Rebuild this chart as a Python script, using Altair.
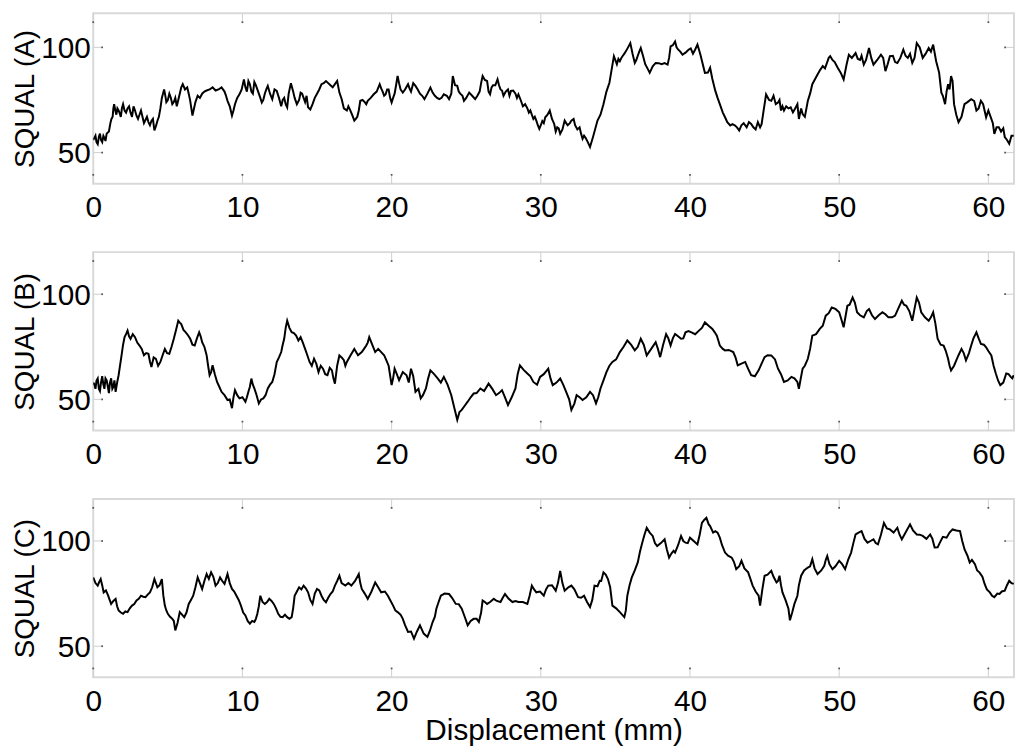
import altair as alt
import pandas as pd

# ---------------- data ----------------
# Panel A: main readings
xa = [0.0, 0.15, 0.3, 0.45, 0.6, 0.75, 0.9, 1.05, 1.15, 1.3, 1.4, 1.55, 1.7, 1.85, 2.0, 2.2, 2.4, 2.6, 2.8, 3.0,
      3.2, 3.4, 3.6, 3.8, 4.0, 4.1, 4.3, 4.5, 4.75, 4.9, 5.1, 5.3, 5.5, 5.6, 5.8, 6.0, 6.3, 6.5, 6.65, 6.85,
      7.0, 7.3, 7.6, 8.0, 8.4, 8.8, 9.0, 9.3, 9.5, 9.8, 10.1, 10.3, 10.5, 10.7, 10.9, 11.1, 11.3, 11.5, 11.7, 12.0,
      12.3, 12.6, 12.8, 13.0, 13.25, 13.5, 13.8, 14.0, 14.2, 14.4, 14.7, 15.0, 15.3, 15.6, 15.9, 16.2, 16.5, 16.8, 17.0, 17.2,
      17.5, 17.7, 17.9, 18.2, 18.4, 18.8, 19.2, 19.4, 19.6, 19.8, 20.0, 20.2, 20.4, 20.6, 20.75, 21.1, 21.3, 21.6, 21.9, 22.2,
      22.6, 22.9, 23.2, 23.5, 23.85, 24.1, 24.4, 24.6, 24.85, 25.2, 25.6, 25.9, 26.1, 26.4, 26.6, 26.8, 27.1, 27.3, 27.5, 27.8,
      28.0, 28.3, 28.5, 28.8, 29.1, 29.3, 29.5, 29.7, 29.9, 30.1, 30.3, 30.6, 30.9, 31.1, 31.3, 31.6, 31.8, 32.05, 32.3, 32.6,
      32.8, 33.0, 33.3, 33.5, 33.8, 34.0, 34.2, 34.4, 34.6, 34.9, 35.1, 35.3, 35.5, 35.7, 36.0, 36.3, 36.5, 36.7, 37.0, 37.3,
      37.7, 38.1, 38.5, 38.7, 39.0, 39.2, 39.5, 39.9, 40.2, 40.5, 40.7, 41.0, 41.35, 41.7, 42.0, 42.35, 42.7, 43.0, 43.3, 43.6,
      44.1, 44.4, 44.7, 44.9, 45.1, 45.45, 45.9, 46.1, 46.3, 46.6, 46.9, 47.2, 47.3, 47.55, 47.9, 48.2, 48.55, 48.9, 49.2, 49.4,
      49.9, 50.3, 50.65, 51.1, 51.4, 51.65, 52.0, 52.3, 52.8, 53.1, 53.4, 53.9, 54.3, 54.6, 54.9, 55.2, 55.6, 56.0, 56.3, 56.5,
      56.85, 57.1, 57.3, 57.5, 57.7, 58.0, 58.4, 58.85, 59.2, 59.5, 59.85, 60.2, 60.4, 60.7, 61.1, 61.4, 61.7]
ya = [56, 58, 54, 59, 55, 57, 59, 60, 64, 67, 73, 68, 70, 67, 73, 69, 72, 67, 70, 66,
      70, 64, 67, 63, 66, 60.5, 65, 71, 80, 74, 78, 73, 76, 72, 78, 82.5, 81, 74.6, 67.6, 74,
      77, 78, 79.5, 81, 80, 79, 74.6, 67.6, 73, 77.7, 84.8, 79, 82.5, 78, 82, 78, 73.8, 78, 81.7, 75.4,
      79.3, 72, 76, 71.5, 83, 76, 75, 78, 74, 71.5, 73, 78, 82.5, 84, 82, 82.5, 78.5, 71, 70, 70.5,
      65.2, 67, 74.6, 74, 74.6, 77.7, 82.5, 79, 77.7, 80, 73.8, 78, 86.4, 80, 78.5, 82.5, 79, 81.7, 78, 75.4,
      80.9, 77, 75.4, 77.7, 75.4, 86.4, 81.7, 78, 74.6, 78.5, 75.4, 79, 86.4, 84, 77.7, 82, 84.8, 80, 77, 80,
      79.3, 78, 77.7, 72, 71, 70, 66, 65.2, 61.3, 65, 66.8, 70, 63.6, 62, 58.9, 65.2, 63, 65.2, 63, 62,
      56.6, 57, 52.7, 57.4, 65.2, 68, 73, 79, 83.2, 95.8, 92, 93.4, 96, 98.1, 102, 92.6, 96, 99.7, 92, 87.9,
      92.6, 92, 91.8, 100.5, 102.8, 99, 96.5, 98.9, 97, 101.3, 96.5, 87.9, 90.3, 79.3, 73, 66.8, 62.9, 63, 60.5, 64,
      63.6, 61, 62, 68.3, 77.7, 74.6, 73.8, 70, 70, 71, 69.1, 73, 66, 68.3, 74.6, 82.5, 87.1, 91.1, 93, 95.8,
      90.3, 84.8, 96.5, 97.3, 94, 91.8, 99.7, 91.8, 96.5, 88.7, 95.8, 92.6, 98.9, 95, 92.6, 102, 95, 99.7, 101.3, 93.4,
      78.5, 73, 82.5, 86.4, 73, 64.4, 73, 75.4, 70, 74.6, 66.8, 66, 58.9, 62, 57.4, 54.2, 58]
# Panel A: additional readings of the fine jitter
xa_fine = [0.08, 0.22, 0.38, 0.52, 0.68, 0.82, 1.22, 1.35, 1.48, 1.62, 1.78, 1.92, 2.1, 2.3, 2.5, 2.7, 2.9, 3.1, 3.3, 3.5,
           3.7, 3.9, 4.2, 4.4, 4.6, 4.82, 5.0, 5.2, 5.4, 5.7, 5.9, 6.15, 6.4, 7.15, 7.45, 7.8, 8.2, 8.6, 8.9, 9.15,
           9.4, 9.65, 9.95, 10.2, 10.4, 10.6, 10.8, 11.0, 11.2, 11.4, 11.6, 11.85, 12.15, 12.45, 12.7, 12.9, 13.1, 13.4, 13.65, 13.9,
           14.1, 14.3, 14.55, 14.85, 15.15, 15.45, 15.75, 16.05, 16.35, 16.65, 17.1, 17.35, 17.6, 17.8, 18.05, 18.3, 18.6, 19.0, 19.3, 19.5,
           19.7, 19.9, 20.1, 20.3, 20.5, 20.9, 21.2, 21.45, 21.75, 22.05, 22.4, 22.75, 23.05, 23.35, 23.7, 24.0, 24.25, 24.5, 24.75, 25.0,
           25.4, 25.75, 26.0, 26.25, 26.5, 26.7, 26.95, 27.2, 27.4, 27.65, 27.9, 28.15, 28.4, 28.65, 28.95, 29.2, 29.4, 29.6, 29.8, 30.0,
           30.2, 30.45, 30.75, 31.0, 31.2, 31.45, 31.7, 31.95, 32.2, 32.45, 32.7, 32.9, 33.15, 33.4, 35.2, 35.4, 35.6, 35.85, 36.15, 36.4,
           36.6, 36.85, 37.15, 37.5, 37.9, 38.3, 38.6, 38.85, 39.1, 39.35, 39.7, 40.05, 40.35, 40.6, 41.2, 41.5, 41.85, 42.2, 42.5, 42.85,
           43.15, 43.45, 43.8, 43.95, 44.25, 44.55, 44.8, 45.3, 45.6, 45.75, 46.0, 46.2, 46.45, 46.75, 47.05, 47.45, 47.7, 48.05, 48.7, 49.05,
           49.3, 49.55, 49.7, 50.1, 50.5, 50.85, 51.25, 51.5, 51.8, 52.15, 52.55, 52.95, 53.25, 53.6, 53.75, 54.1, 54.45, 54.75, 55.05, 55.4,
           55.8, 56.15, 56.7, 56.95, 57.2, 57.4, 57.6, 57.85, 58.2, 58.6, 59.05, 59.35, 59.65, 60.0, 60.3, 60.55, 60.85, 61.0, 61.25, 61.55]
ya_fine = [57, 55, 57.5, 56, 58, 55.5, 66, 71, 70, 71, 68.5, 71, 70, 71, 69, 72, 67.5, 68, 67, 65.5,
           64.5, 65, 62.5, 67, 76, 77.5, 75, 76, 74, 75, 81, 80, 78, 76, 79, 80, 79.5, 81, 77, 72,
           70, 76, 80, 81, 84, 79, 83.5, 80, 76, 75, 80, 78, 80, 76, 75, 73, 78, 79, 73, 78.5,
           76, 77, 70.5, 76, 80, 83, 83, 81, 84, 75.5, 72, 68, 66, 70, 75, 73, 76, 79, 80.5, 77,
           80, 76, 76, 82, 83, 80, 80.5, 83, 80, 77, 78, 78.5, 76, 76, 77, 78, 82, 79, 77, 76,
           77, 77, 83, 84.5, 79, 81, 82, 82, 79.5, 79, 77, 79.5, 76, 75, 73, 69, 68, 67, 63, 63,
           64, 68, 66, 60, 61.5, 61, 64, 64, 66, 61, 59, 58, 55, 55, 94.5, 95, 97, 100, 97, 94,
           98, 96, 90, 91, 92.5, 92.5, 95, 101, 100, 98, 97.5, 99.5, 99, 99, 88, 85, 76, 69, 64.5, 63.5,
           62, 63, 62, 64.5, 62, 64.5, 63.5, 75, 77, 73, 75, 72, 72, 71.5, 71, 71, 67, 78, 89, 90,
           95, 94, 93, 88, 92, 95, 94.5, 96, 94, 95, 94, 95, 92, 96, 93, 95, 96, 97, 95, 100,
           97, 98, 88, 77, 79, 80, 84, 68, 67, 74, 74.5, 71, 73, 70, 64, 62, 60, 61.5, 56, 58]

# Panel B: main readings
xb = [0.0, 0.15, 0.3, 0.45, 0.6, 0.75, 0.9, 1.05, 1.2, 1.35, 1.5, 1.7, 1.9, 2.1, 2.3, 2.5, 2.8, 3.1, 3.4, 3.7,
      3.9, 4.2, 4.5, 4.8, 5.1, 5.4, 5.7, 5.9, 6.2, 6.5, 6.8, 7.1, 7.3, 7.6, 7.8, 8.0, 8.3, 8.6, 9.0, 9.3,
      9.5, 9.8, 10.2, 10.4, 10.6, 10.8, 11.1, 11.4, 11.7, 12.0, 12.3, 12.6, 12.8, 13.0, 13.3, 13.6, 13.9, 14.2, 14.5, 14.8,
      15.1, 15.4, 15.7, 16.0, 16.2, 16.5, 16.8, 17.0, 17.5, 18.0, 18.3, 18.5, 18.9, 19.3, 19.65, 20.0, 20.2, 20.5, 21.0, 21.3,
      21.6, 21.95, 22.3, 22.6, 23.1, 23.5, 24.0, 24.4, 24.7, 25.1, 25.5, 25.95, 26.5, 27.0, 27.4, 27.8, 28.3, 28.6, 29.1, 29.5,
      29.95, 30.5, 30.8, 31.3, 31.7, 32.05, 32.4, 32.8, 33.3, 33.7, 34.0, 34.4, 34.8, 35.3, 35.8, 36.3, 36.7, 37.1, 37.7, 38.0,
      38.4, 38.7, 39.0, 39.4, 39.7, 40.1, 40.6, 41.0, 41.5, 41.8, 42.0, 42.35, 42.9, 43.2, 43.7, 44.1, 44.6, 45.0, 45.45, 45.9,
      46.3, 46.8, 47.2, 47.3, 47.55, 47.9, 48.2, 48.7, 49.1, 49.5, 50.0, 50.3, 50.55, 50.9, 51.2, 51.65, 52.0, 52.4, 52.9, 53.3,
      53.75, 54.2, 54.5, 54.9, 55.2, 55.5, 56.0, 56.3, 56.6, 57.0, 57.3, 57.5, 57.85, 58.2, 58.5, 58.85, 59.2, 59.5, 59.85, 60.2,
      60.5, 60.8, 61.2, 61.5, 61.7]
yb = [58, 55, 60, 54, 61, 55, 59, 53, 60, 56, 53.6, 61.5, 71, 79.6, 82.7, 78.8, 79.6, 75.6, 71, 71.7,
      65.4, 69.3, 67.8, 74, 71.7, 78.8, 87.4, 85.8, 81.9, 78.8, 75.6, 81.9, 77.2, 71, 61.5, 66.2, 58.3, 53.6, 49.7, 45.8,
      54.4, 50.5, 48.9, 53.6, 59.9, 55.2, 48.1, 50.5, 55.2, 58.3, 67.8, 72.5, 78.8, 87.4, 81.9, 80.3, 79.6, 74, 67.8, 69.3,
      63, 64.6, 61.5, 63.8, 57.5, 70.9, 68.6, 67.8, 74, 72.5, 75.6, 79.6, 72.5, 72.5, 68.6, 56.8, 64.6, 59.1, 61.5, 64.6,
      53.6, 50.5, 55.2, 63.8, 59.9, 60.7, 52, 40.3, 45, 48.9, 52.8, 55.2, 57.5, 52, 54.4, 47.3, 55.2, 66.2, 62.3, 58.3,
      60.7, 64.6, 56.8, 59.9, 53.6, 45, 52, 49.7, 53.6, 48.1, 55.2, 63, 67.8, 72.5, 78, 73.3, 78.8, 70.9, 77.2, 70.1,
      81, 75.6, 81.1, 78.8, 81.9, 81.9, 82.7, 86.6, 83.5, 80.3, 75.6, 73.3, 72.5, 66.2, 67.8, 61.5, 63.8, 70.1, 70.9, 64.6,
      58.3, 60.7, 58.3, 55, 64.6, 69.3, 80.3, 83.5, 89.8, 93.7, 91.4, 84.3, 94.5, 98.4, 91.4, 89, 92.9, 88.2, 91.4, 89,
      89.8, 96.9, 94.5, 87.4, 98.4, 91.4, 87.4, 91.4, 78.8, 75.6, 69.3, 63.8, 68.6, 74, 68.6, 75.6, 81.9, 76.4, 74.8, 70.9,
      62.3, 56.8, 62.3, 60.7, 61.5]
# Panel B: additional readings of the fine jitter
xb_fine = [0.08, 0.22, 0.38, 0.52, 0.68, 0.82, 0.98, 1.12, 1.28, 1.42, 1.6, 2.0, 2.2, 2.4, 2.65, 2.95, 3.25, 3.55, 3.8, 4.05,
           4.35, 4.65, 4.95, 5.25, 5.55, 5.8, 6.05, 6.35, 6.65, 6.95, 7.2, 7.45, 7.7, 7.9, 8.15, 8.45, 8.8, 9.15, 9.4, 9.65,
           10.0, 10.3, 10.5, 10.7, 10.95, 11.25, 11.55, 11.85, 12.15, 12.45, 12.7, 12.9, 13.15, 13.45, 13.75, 14.05, 14.35, 14.65, 14.95, 15.25,
           15.55, 15.85, 16.1, 16.35, 16.65, 16.9, 17.25, 17.75, 18.15, 18.4, 18.7, 19.1, 19.5, 19.8, 20.1, 20.35, 20.75, 21.15, 21.45, 21.8,
           22.1, 22.45, 22.85, 23.3, 23.75, 24.2, 24.55, 24.9, 25.3, 25.7, 26.2, 26.75, 27.2, 27.6, 28.05, 28.45, 28.85, 29.3, 29.75, 30.2,
           30.65, 31.05, 31.5, 31.9, 32.25, 32.6, 33.05, 33.5, 33.85, 34.2, 34.6, 35.05, 35.55, 36.05, 36.5, 36.9, 37.4, 37.85, 38.2, 38.55,
           38.85, 39.2, 39.55, 39.9, 40.35, 40.8, 41.25, 41.65, 41.9, 42.2, 42.6, 43.05, 43.45, 43.9, 44.35, 44.8, 45.2, 45.7, 46.1, 46.55,
           47.0, 47.4, 47.7, 48.05, 48.45, 48.9, 49.3, 49.75, 50.15, 50.7, 51.05, 51.4, 51.85, 52.2, 52.65, 53.1, 53.55, 53.95, 54.35, 54.7,
           55.05, 55.35, 55.75, 56.15, 56.45, 56.8, 57.15, 57.4, 57.7, 58.0, 58.35, 58.7, 59.0, 59.35, 59.7, 60.0, 60.35, 60.65, 61.0, 61.35,
           61.6]
yb_fine = [57, 59, 55, 58, 57, 60, 56, 58, 55, 59, 58, 76, 81, 80, 81, 77, 74, 72, 68, 70,
           66, 71, 72, 75, 83, 86.5, 83, 80.5, 76, 79, 80, 75, 66, 63, 62, 56, 52, 50, 51, 52,
           51, 51, 56, 57, 52, 50, 52, 57, 62, 70, 76, 84, 84, 81.5, 78, 77, 71, 66, 67, 66,
           62, 65, 60, 66, 70, 66, 71, 71, 74, 77, 76, 74, 71, 66, 60, 62, 63, 58, 61, 55,
           52, 60, 62, 58, 57, 46, 44, 47, 51, 53, 54, 55, 53, 51, 51, 62, 64, 61, 57, 62,
           60, 58, 57, 50, 48, 51, 51, 52, 51, 59, 66, 69, 75, 76, 75, 76, 74, 74, 76, 79,
           79, 80, 79, 82.5, 81, 84, 85, 82, 78, 74, 73.5, 70, 67, 64.5, 61, 67, 71, 69, 62, 59,
           60, 59, 66, 74, 81, 85, 91, 93, 88, 95, 96, 90, 92, 90, 90, 90.5, 89, 93, 95, 92,
           93, 96, 89, 89, 86, 76, 73, 66, 66, 71, 72, 72, 79, 79, 76, 73, 66, 59, 58, 62,
           60]

# Panel C: main readings
xc = [0.0, 0.3, 0.5, 0.7, 1.0, 1.2, 1.5, 1.7, 2.0, 2.3, 2.6, 2.9, 3.2, 3.5, 3.8, 4.1, 4.3, 4.6, 4.8, 5.0,
      5.3, 5.5, 5.8, 6.1, 6.4, 6.7, 7.0, 7.3, 7.6, 7.9, 8.2, 8.5, 8.8, 9.0, 9.3, 9.6, 9.9, 10.2, 10.5, 10.8,
      11.0, 11.2, 11.5, 11.8, 12.1, 12.4, 12.7, 13.0, 13.3, 13.5, 13.8, 14.1, 14.4, 14.7, 15.0, 15.3, 15.6, 15.9, 16.2, 16.5,
      16.9, 17.3, 17.8, 18.0, 18.4, 18.9, 19.3, 19.75, 20.1, 20.4, 20.75, 21.1, 21.5, 21.9, 22.4, 22.75, 23.0, 23.3, 23.85, 24.3,
      24.7, 25.1, 25.5, 25.85, 26.1, 26.4, 26.85, 27.3, 27.6, 28.1, 28.5, 29.1, 29.4, 29.7, 30.2, 30.5, 31.0, 31.3, 31.6, 32.05,
      32.5, 32.9, 33.3, 33.6, 33.95, 34.2, 34.5, 34.8, 35.3, 35.6, 35.8, 36.1, 36.5, 36.8, 37.1, 37.5, 37.8, 38.3, 38.6, 38.9,
      39.0, 39.4, 39.7, 40.0, 40.5, 40.8, 41.1, 41.35, 41.7, 42.0, 42.35, 42.8, 43.1, 43.45, 43.9, 44.2, 44.6, 44.7, 45.0, 45.45,
      45.8, 46.0, 46.2, 46.6, 46.7, 47.0, 47.2, 47.45, 47.9, 48.2, 48.55, 49.0, 49.2, 49.55, 50.0, 50.4, 50.8, 51.1, 51.5, 51.9,
      52.3, 52.6, 53.0, 53.4, 53.9, 54.2, 54.75, 55.2, 55.6, 56.1, 56.4, 56.75, 57.2, 57.6, 58.1, 58.4, 58.75, 59.1, 59.4, 59.75,
      60.1, 60.4, 60.75, 61.1, 61.4, 61.7]
yc = [82.7, 78.8, 81.9, 75.6, 74, 70.1, 72.5, 67, 65.4, 66.2, 69.3, 71.7, 74, 73.3, 75.6, 81.9, 78, 81.9, 69.3, 65.4,
      63, 57.5, 66.2, 63.8, 70.1, 74, 82.7, 77.2, 84.3, 85.1, 78.8, 82.7, 79.6, 84.3, 77.2, 74, 69.3, 64.6, 60.7, 61.5,
      65.4, 74, 70.1, 72.5, 70.1, 65.4, 63.8, 63.8, 63.8, 74, 78, 78.8, 75.6, 70.1, 77.2, 74, 70.9, 74.8, 78.8, 83.5,
      78.8, 78.8, 84.3, 77.2, 72.5, 80.3, 75.6, 74, 69.3, 66.2, 63, 56.8, 53.6, 59.9, 54.4, 61.5, 67.8, 74, 74.8, 70.1,
      67.8, 59.9, 63, 61.5, 71.7, 70.1, 72.5, 71, 74.8, 71, 71, 70.1, 78.8, 75.6, 74, 78.8, 76.4, 85.8, 76.4, 78.8,
      73.3, 74, 68.6, 78.8, 81.1, 85.1, 81.9, 69.3, 66.2, 63.8, 74, 82.7, 89.8, 99.2, 106.3, 102.4, 97.6, 100.8, 92.1, 95.3,
      94.5, 102.4, 99.2, 101.6, 98.4, 108.6, 111, 107.1, 104.7, 101.6, 94.5, 92.1, 86.6, 90.6, 85.1, 78.8, 74, 69.3, 83.5, 85.8,
      80.3, 83.5, 75.6, 67.8, 62.3, 70.1, 74, 83.5, 87.4, 91.4, 84.3, 88.2, 92.9, 86.6, 90.6, 86.6, 94.5, 103.1, 104.7, 99.2,
      100.8, 98.4, 108.6, 105.5, 106.3, 100.8, 107.9, 103.1, 102.4, 103.1, 96.9, 99.2, 101.6, 105.5, 104.7, 96.1, 89.8, 89, 85.1, 79.6,
      75.6, 73.3, 74.8, 76.4, 81.1, 79.6]
# Panel C: additional readings of the fine jitter
xc_fine = [0.15, 0.4, 0.6, 0.85, 1.1, 1.35, 1.6, 1.85, 2.15, 2.45, 2.75, 3.05, 3.35, 3.65, 3.95, 4.2, 4.45, 4.7, 4.9, 5.15,
           5.4, 5.65, 5.95, 6.25, 6.55, 6.85, 7.15, 7.45, 7.75, 8.05, 8.35, 8.65, 8.9, 9.15, 9.45, 9.75, 10.05, 10.35, 10.65, 10.9,
           11.1, 11.35, 11.65, 11.95, 12.25, 12.55, 12.85, 13.15, 13.4, 13.65, 13.95, 14.25, 14.55, 14.85, 15.15, 15.45, 15.75, 16.05, 16.35, 16.65,
           17.1, 17.55, 17.9, 18.2, 18.65, 19.1, 19.55, 19.9, 20.25, 20.6, 20.9, 21.3, 21.7, 22.15, 22.55, 22.9, 23.15, 23.55, 24.05, 24.5,
           24.9, 25.3, 25.7, 26.0, 26.25, 26.6, 27.05, 27.45, 27.85, 28.3, 28.8, 29.25, 29.55, 29.95, 30.35, 30.75, 31.15, 31.45, 31.85, 32.25,
           32.7, 33.1, 33.45, 33.8, 34.05, 34.35, 34.65, 35.05, 35.45, 35.7, 35.95, 36.3, 36.65, 36.95, 37.3, 37.65, 38.05, 38.45, 38.75, 39.2,
           39.55, 39.85, 40.25, 40.65, 40.95, 41.25, 41.55, 41.85, 42.15, 42.55, 42.95, 43.3, 43.65, 44.05, 44.4, 44.85, 45.2, 45.6, 45.9, 46.1,
           46.4, 46.85, 47.1, 47.3, 47.65, 48.05, 48.35, 48.8, 49.1, 49.35, 49.75, 50.2, 50.6, 50.95, 51.3, 51.7, 52.1, 52.45, 52.8, 53.2,
           53.65, 54.05, 54.45, 54.95, 55.4, 55.85, 56.25, 56.6, 56.95, 57.4, 57.85, 58.25, 58.6, 58.9, 59.25, 59.6, 59.9, 60.25, 60.6, 60.9,
           61.25, 61.55]
yc_fine = [80, 80.5, 79, 76.5, 72, 71.5, 69, 66, 66.5, 68, 70, 72.5, 73.5, 74.5, 78, 80, 79, 74, 67, 64,
           62, 61, 65, 66, 72, 78, 80, 81, 82, 83, 80, 81, 82, 80, 76, 72, 66, 62, 62, 63,
           69, 71, 71, 71.5, 68, 64, 65, 63, 68, 76, 77, 77.5, 72, 75, 76.5, 72, 73, 76, 81, 80,
           80, 81, 80, 75, 76, 78, 76, 72, 67, 65, 60, 57, 57, 56, 57, 64, 71, 75, 73, 70,
           64, 62, 63, 66, 71, 71, 71.5, 73, 72.5, 71.5, 71, 74, 77, 76, 77, 79, 80, 80, 78, 77,
           73, 71, 72, 78.5, 81, 84, 78, 68, 65, 67, 79, 86, 95, 103, 104, 99, 99, 96, 94, 98,
           100, 99, 100, 103, 110, 108, 104, 104, 98, 93, 90, 88, 87, 82, 76, 77, 84, 83, 81, 79,
           72, 66, 72, 79, 86, 88, 87, 86, 91, 89, 88, 89, 91, 99, 104, 101, 100, 99, 103, 106,
           104, 103, 104, 105, 103, 101, 101, 97, 102, 104, 105, 100, 93, 91, 86, 83, 77, 74, 75, 76,
           79, 80]

x_ticks = [0, 10, 20, 30, 40, 50, 60]
y_ticks = [50, 100]
panel_labels = ["SQUAL (A)", "SQUAL (B)", "SQUAL (C)"]
x_title = "Displacement (mm)"

# ---------------- layout constants ----------------
W = 929
X_DOMAIN = [0, 61.72]
FONT = "Liberation Sans"
FRAME = "#d9d9d9"


def panel(xs, ys, xs_fine, ys_fine, label, height, ymax, last):
    df = pd.DataFrame({"x": list(xs) + list(xs_fine), "y": list(ys) + list(ys_fine)})
    xs_ = alt.Scale(domain=X_DOMAIN, nice=False, zero=False)
    ys_ = alt.Scale(domain=[35.2, ymax], nice=False, zero=False)
    x_axis = alt.Axis(values=x_ticks, labelPadding=9, labelFlush=False,
                      title=x_title if last else None, titleY=39, titleBaseline="top")
    y_axis = alt.Axis(values=y_ticks, labelPadding=3, title=label, titleX=-54, titleFontSize=28,
                      labelFlush=False, labelOffset=1)
    line = alt.Chart(df).mark_line(color="black", strokeWidth=2, clip=True).encode(
        x=alt.X("x:Q", scale=xs_, axis=x_axis),
        y=alt.Y("y:Q", scale=ys_, axis=y_axis),
        order="x:Q",
    )
    tx = pd.DataFrame({"x": x_ticks})
    ty = pd.DataFrame({"y": y_ticks})
    xa_ = alt.X("x:Q", scale=xs_, axis=x_axis)
    ya_ = alt.Y("y:Q", scale=ys_, axis=y_axis)
    tick_col = "#cfcfcf"
    dot_col = "#555555"
    layers = [
        line,
        alt.Chart(tx).mark_rule(color=tick_col, strokeWidth=1).encode(x=xa_, y=alt.value(0), y2=alt.value(9)),
        alt.Chart(tx).mark_rule(color=tick_col, strokeWidth=1).encode(x=xa_, y=alt.value(height), y2=alt.value(height - 9)),
        alt.Chart(ty).mark_rule(color=tick_col, strokeWidth=1).encode(y=ya_, x=alt.value(0), x2=alt.value(9)),
        alt.Chart(ty).mark_rule(color=tick_col, strokeWidth=1).encode(y=ya_, x=alt.value(W), x2=alt.value(W - 9)),
        alt.Chart(tx).mark_square(color=dot_col, size=3, opacity=1).encode(x=xa_, y=alt.value(9)),
        alt.Chart(tx).mark_square(color=dot_col, size=3, opacity=1).encode(x=xa_, y=alt.value(height - 9)),
        alt.Chart(ty).mark_square(color=dot_col, size=3, opacity=1).encode(y=ya_, x=alt.value(9)),
        alt.Chart(ty).mark_square(color=dot_col, size=3, opacity=1).encode(y=ya_, x=alt.value(W - 9)),
    ]
    return alt.layer(*layers).properties(width=W, height=height)


pa = panel(xa, ya, xa_fine, ya_fine, panel_labels[0], 172, 116.2, False)
pb = panel(xb, yb, xb_fine, yb_fine, panel_labels[1], 180, 120.0, False)
pc = panel(xc, yc, xc_fine, yc_fine, panel_labels[2], 180, 120.0, True)

chart = alt.vconcat(pa, pb, pc, spacing=69, bounds="flush").properties(
    padding={"left": 3, "top": 0, "right": 0, "bottom": 0}, background="white"
).configure_view(
    stroke=FRAME, strokeWidth=2
).configure_axis(
    domain=False, ticks=False, tickSize=0, grid=False,
    labelFont=FONT, labelFontSize=30, labelColor="black",
    titleFont=FONT, titleFontSize=30, titleColor="black", titleFontWeight="normal",
)

chart.save("out.html", embed_options={"renderer": "svg", "actions": False})
